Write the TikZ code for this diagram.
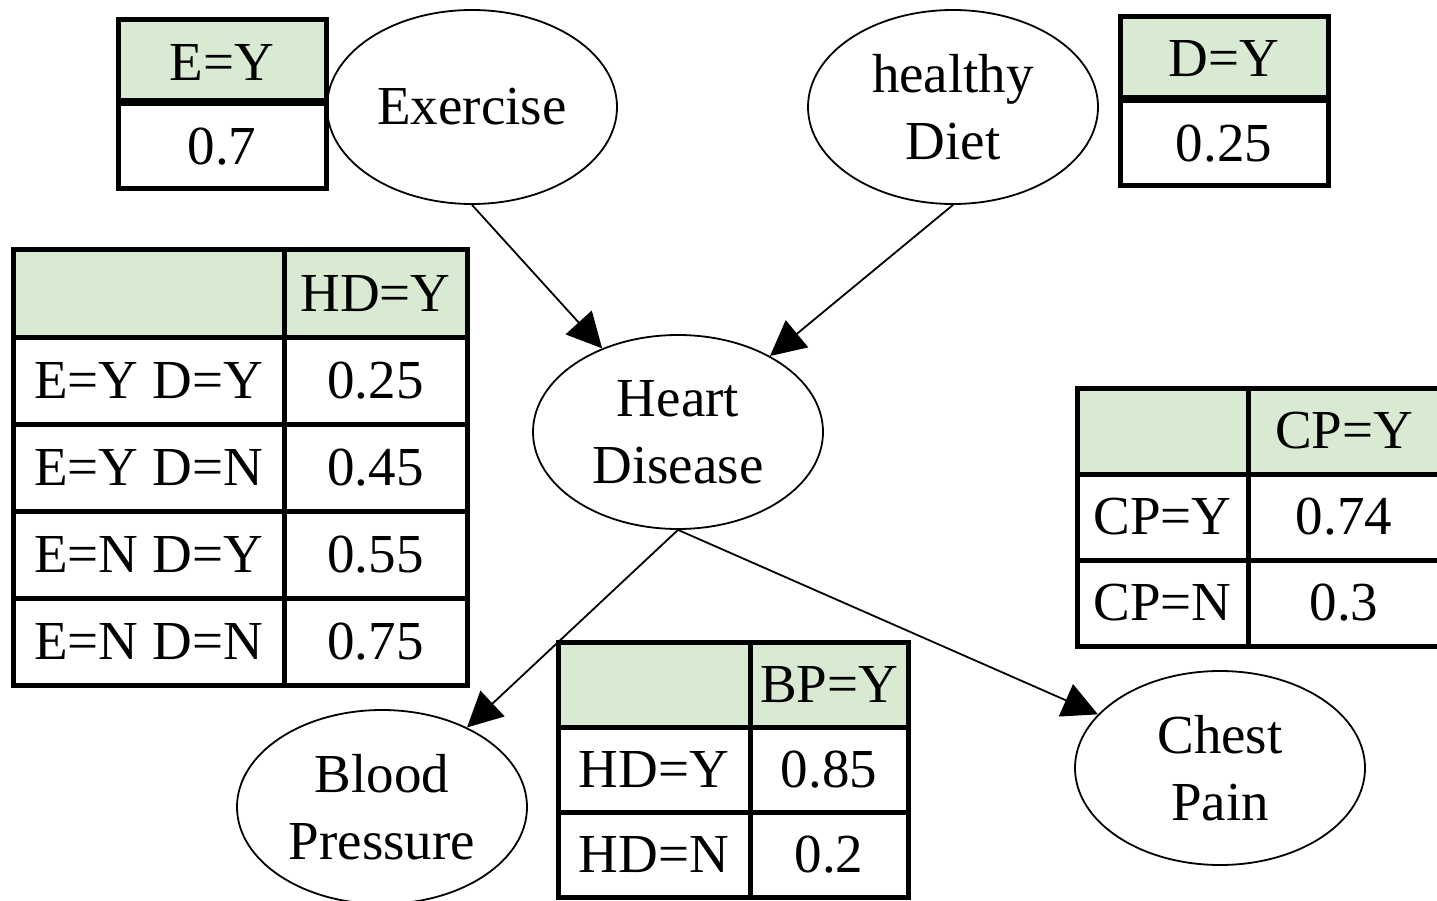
\documentclass[tikz,border=0pt]{standalone}
\usepackage{fontspec}
\setmainfont{Liberation Serif}
\usetikzlibrary{shapes.geometric,arrows.meta}
\definecolor{hdrgreen}{RGB}{217,234,211}
\begin{document}
\begin{tikzpicture}[x=1pt,y=-1pt,
  var/.style={ellipse,draw,line width=1.8pt,minimum width=290pt,minimum height=194pt,
    inner sep=0pt,align=center,font=\fontsize{55}{67}\selectfont},
  cell/.style={rectangle,draw,line width=5pt,inner sep=0pt,font=\fontsize{55}{66}\selectfont},
  hdr/.style={cell,fill=hdrgreen},
  link/.style={line width=1.8pt,-{Triangle[length=35pt,width=35pt]}}]
\useasboundingbox (0,0) rectangle (1437,901);

% variables
\node[var] (ex)   at (472,107) {Exercise};
\node[var] (diet) at (953,107) {healthy\\Diet};
\node[var] (hd)   at (678,432) {Heart\\Disease};
\node[var] (bp)   at (382,807) {Blood\\Pressure};
\node[var] (cp)   at (1220,768) {Chest\\Pain};

% P(E)
\node[hdr,minimum width=208pt,minimum height=84pt] (eh) at (222,62) {E=Y};
\node[cell,minimum width=208pt,minimum height=85pt] (ev) at (222,146.5) {0.7};
\draw[line width=7pt] (ev.north west) -- (ev.north east);

% P(D)
\node[hdr,minimum width=208pt,minimum height=84pt] (dh) at (1224,59) {D=Y};
\node[cell,minimum width=208pt,minimum height=85pt] (dv) at (1224,143.5) {0.25};
\draw[line width=7pt] (dv.north west) -- (dv.north east);

% P(HD | E, D)
\node[hdr,minimum width=271pt,minimum height=87pt] (hd00) at (148.5,293.5) {};
\node[hdr,minimum width=183pt,minimum height=87pt] (hd01) at (375.5,293.5) {HD=Y};
\node[cell,minimum width=271pt,minimum height=87pt] (hd10) at (148.5,380.5) {E=Y D=Y};
\node[cell,minimum width=183pt,minimum height=87pt] (hd11) at (375.5,380.5) {0.25};
\node[cell,minimum width=271pt,minimum height=87pt] (hd20) at (148.5,467.5) {E=Y D=N};
\node[cell,minimum width=183pt,minimum height=87pt] (hd21) at (375.5,467.5) {0.45};
\node[cell,minimum width=271pt,minimum height=87pt] (hd30) at (148.5,554.5) {E=N D=Y};
\node[cell,minimum width=183pt,minimum height=87pt] (hd31) at (375.5,554.5) {0.55};
\node[cell,minimum width=271pt,minimum height=87pt] (hd40) at (148.5,641.5) {E=N D=N};
\node[cell,minimum width=183pt,minimum height=87pt] (hd41) at (375.5,641.5) {0.75};

% P(CP | HD)
\node[hdr,minimum width=171pt,minimum height=86pt] (cp00) at (1162.5,431) {};
\node[hdr,minimum width=192pt,minimum height=86pt] (cp01) at (1344,431) {CP=Y};
\node[cell,minimum width=171pt,minimum height=86pt] (cp10) at (1162.5,517) {CP=Y};
\node[cell,minimum width=192pt,minimum height=86pt] (cp11) at (1344,517) {0.74};
\node[cell,minimum width=171pt,minimum height=86pt] (cp20) at (1162.5,603) {CP=N};
\node[cell,minimum width=192pt,minimum height=86pt] (cp21) at (1344,603) {0.3};

% P(BP | HD)
\node[hdr,minimum width=192pt,minimum height=85pt] (bp00) at (654,684.5) {};
\node[hdr,minimum width=158pt,minimum height=85pt] (bp01) at (829,684.5) {BP=Y};
\node[cell,minimum width=192pt,minimum height=85pt] (bp10) at (654,769.5) {HD=Y};
\node[cell,minimum width=158pt,minimum height=85pt] (bp11) at (829,769.5) {0.85};
\node[cell,minimum width=192pt,minimum height=85pt] (bp20) at (654,854.5) {HD=N};
\node[cell,minimum width=158pt,minimum height=85pt] (bp21) at (829,854.5) {0.2};

% dependencies
\draw[link] (ex.south) -- (hd);
\draw[link] (diet.south) -- (hd);
\draw[link] (hd.south) -- (bp);
\draw[link] (hd.south) -- (cp);
\end{tikzpicture}
\end{document}
